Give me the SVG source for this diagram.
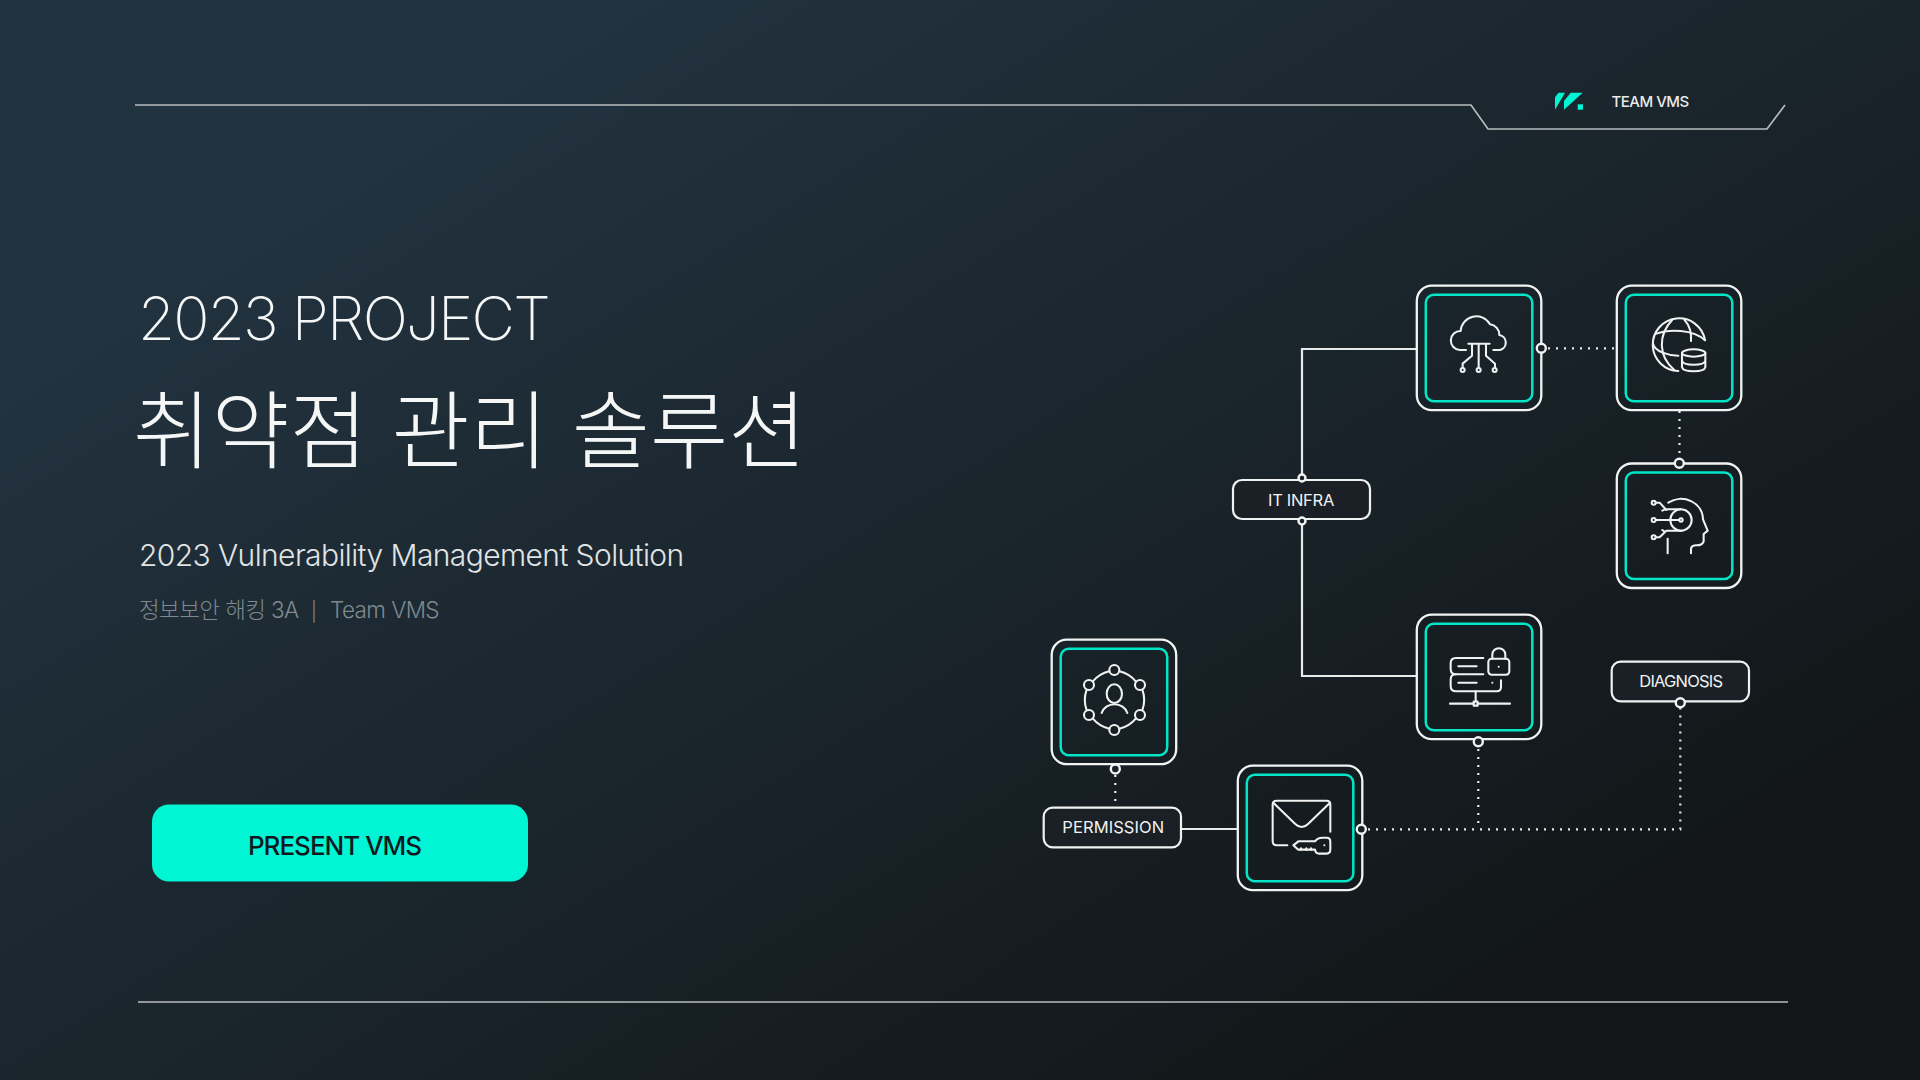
<svg xmlns="http://www.w3.org/2000/svg" width="1920" height="1080" viewBox="0 0 1920 1080">
<defs>
<linearGradient id="bg" gradientUnits="userSpaceOnUse" x1="600" y1="-40" x2="1320" y2="1120">
<stop offset="0" stop-color="#223340"/><stop offset="0.5" stop-color="#1a252c"/><stop offset="1" stop-color="#121618"/>
</linearGradient>
<rect id="outer" x="0" y="0" width="124.5" height="124.5" rx="15"/>
<rect id="inner" x="9" y="9" width="106.5" height="106.5" rx="8"/>
</defs>
<style>
text{font-family:"Inter","Noto Sans CJK KR","Noto Sans",sans-serif}
.o{fill:none;stroke:#f2f4f4;stroke-width:2.3}
.i{fill:none;stroke:#00e6c6;stroke-width:2.5}
.ic{fill:none;stroke:#f0f2f2;stroke-width:6.2;stroke-linecap:round;stroke-linejoin:round}
.solid{fill:none;stroke:#e8eaea;stroke-width:2.2}
.dot{fill:none;stroke:#e8eaea;stroke-width:2.2;stroke-dasharray:2 6}
.port{fill:#1a2228;stroke:#f2f4f4;stroke-width:2.4}
.pill{fill:#1a2026;stroke:#f0f2f2;stroke-width:2.2}
.pt{font-size:16.5px;fill:#f0f2f2;text-anchor:middle}
.rule{fill:none;stroke:#b8bdbf;stroke-width:1.7}
</style>
<rect width="1920" height="1080" fill="url(#bg)"/>

<g id="frame">
<path class="rule" d="M135 105H1471L1488 129H1767L1785 105"/>
<path class="rule" d="M138 1002H1788"/>
</g>
<g id="logo" fill="#00f5d4">
<polygon points="1555,97.300 1558.500,92.700 1565,92.700 1555,109.700"/>
<polygon points="1564,109.700 1564,101 1570.700,92.700 1582.700,92.700 1564,109.700"/>
<rect x="1577.700" y="104.300" width="5.300" height="5.400"/>
</g>
<text x="1611.500" y="107" font-size="15" font-weight="500" letter-spacing="-.5" fill="#e8eaea">TEAM VMS</text>

<g id="titles">
<text x="138" y="340" font-size="60" font-weight="200" letter-spacing="-1.800" fill="#f5f7f7">2023 PROJECT</text>
<text x="133" y="462" font-size="85" font-weight="200" fill="#f5f7f7">취약점 관리 솔루션</text>
<text x="139" y="566" font-size="30" font-weight="300" letter-spacing="-.6" fill="#e0e4e5">2023 Vulnerability Management Solution</text>
<text x="139" y="618" font-size="22.500" font-weight="300" letter-spacing="-.6" fill="#7f898e">정보보안 해킹 3A<tspan x="311" font-size="19">|</tspan><tspan x="330">Team VMS</tspan></text>
</g>
<g id="button">
<rect x="152" y="804.500" width="376" height="77" rx="17" fill="#00f5d4"/>
<text x="334.500" y="855" font-size="26" font-weight="500" letter-spacing="-1" fill="#0f1a1f" text-anchor="middle">PRESENT VMS</text>
</g>

<g id="connectors">
<path class="solid" d="M1302 478V349H1417"/>
<path class="solid" d="M1302 521V676H1417"/>
<path class="solid" d="M1181 829H1238"/>
<path class="dot" d="M1548 348.300H1617"/>
<path class="dot" d="M1679.500 411V458"/>
<path class="dot" d="M1115.300 775V808"/>
<path class="dot" d="M1368 829.300H1680.300V708"/>
<path class="dot" d="M1478.300 749V829"/>
</g>

<g id="node-cloud" transform="translate(1416.800 285.700)"><use href="#outer" class="o"/><use href="#inner" class="i"/></g>
<g id="node-globe" transform="translate(1616.800 285.700)"><use href="#outer" class="o"/><use href="#inner" class="i"/></g>
<g id="node-head" transform="translate(1616.800 463.500)"><use href="#outer" class="o"/><use href="#inner" class="i"/></g>
<g id="node-server" transform="translate(1416.800 614.700)"><use href="#outer" class="o"/><use href="#inner" class="i"/></g>
<g id="node-person" transform="translate(1051.700 639.700)"><use href="#outer" class="o"/><use href="#inner" class="i"/></g>
<g id="node-mail" transform="translate(1237.800 765.700)"><use href="#outer" class="o"/><use href="#inner" class="i"/></g>

<g id="icon-cloud" class="ic" transform="translate(1415 285) scale(.3333)">
<path d="M153 195H135A27 27 0 0 1 137 138A47 47 0 0 1 225 118A31 31 0 0 1 253 150A23 23 0 0 1 255 195H235"/>
<path d="M160 176H224M191 176V248M171 176V212L143 236V248M213 176V212L240 236V248"/>
<circle cx="143" cy="255" r="6"/><circle cx="191" cy="255" r="6"/><circle cx="239" cy="255" r="6"/>
</g>
<g id="icon-globe" class="ic" transform="translate(1615 285) scale(.3333)">
<path d="M270 165A79 79 0 1 0 190 258"/>
<path d="M172 104C128 150 130 215 178 255M208 104C224 122 230 145 228 168"/>
<path d="M124 146C160 132 235 132 270 166M114 176C120 200 160 212 190 212"/>
<ellipse cx="236" cy="204" rx="35" ry="11"/>
<path d="M201 204V247C205 263 267 263 271 247V204M201 227C205 243 267 243 271 227"/>
</g>
<g id="icon-head" class="ic" transform="translate(1615 460) scale(.3333)">
<circle cx="116" cy="128" r="6"/><circle cx="116" cy="180" r="6"/><circle cx="116" cy="232" r="6"/>
<circle cx="198" cy="180" r="32"/><circle cx="198" cy="180" r="5"/>
<path d="M122 180H192M122 128H134L154 150M122 232H134L154 212H200M142 152L150 148H198M142 210L150 216"/>
<path d="M160 128A66 62 0 0 1 264 178L278 212L266 222V244Q262 256 245 256Q228 256 228 268V280"/>
<path d="M158 236V280"/>
</g>
<g id="icon-server" class="ic" transform="translate(1415 612) scale(.3333)">
<path d="M205 138H123Q107 138 107 154V171Q107 187 123 187H205"/>
<path d="M123 187Q107 187 107 203V222Q107 238 123 238H245Q258 238 258 225V205"/>
<path d="M130 163H185M130 212H185M182 238V268M105 275H176M188 275H285"/>
<rect x="176" y="269" width="12" height="12"/>
<rect x="220" y="140" width="63" height="48" rx="10"/>
<path d="M232 140V128A19.500 19.500 0 0 1 271 128V140"/>
<path d="M251 164h.1M232 212h.1"/>
</g>
<g id="icon-person" class="ic" transform="translate(1050 637) scale(.3333)">
<circle cx="193" cy="99" r="15"/><circle cx="270" cy="144" r="15"/><circle cx="270" cy="234" r="15"/><circle cx="193" cy="279" r="15"/><circle cx="117" cy="234" r="15"/><circle cx="117" cy="144" r="15"/>
<path d="M208 103A92 92 0 0 1 258 134M277 158A92 92 0 0 1 277 220M258 244A92 92 0 0 1 208 275M178 275A92 92 0 0 1 128 244M110 220A92 92 0 0 1 110 158M128 134A92 92 0 0 1 178 103"/>
<ellipse cx="193" cy="170" rx="23" ry="28"/>
<path d="M155 228A40 36 0 0 1 232 228"/>
</g>
<g id="icon-mail" class="ic" transform="translate(1235 765) scale(.3333)">
<path d="M157 241H125Q113 241 113 229V118Q113 107 125 107H275Q286 107 286 118V200"/>
<path d="M115 113L180 176Q200 196 220 176L285 113"/>
<path d="M175 241L190 229H240Q248 218 262 218H275Q286 218 286 230V253Q286 266 275 266H252Q242 266 240 254H190Z"/>
<path d="M268 241h.1M198 254v-4M214 254v-4M228 254v-4"/>
</g>

<g id="pill-it"><rect class="pill" x="1233" y="480" width="137" height="39" rx="9"/><text class="pt" x="1301" y="505.500" letter-spacing="-.3">IT INFRA</text></g>
<g id="pill-permission"><rect class="pill" x="1043.700" y="807.700" width="137.300" height="39.600" rx="9"/><text class="pt" x="1113.300" y="833.300" letter-spacing=".1">PERMISSION</text></g>
<g id="pill-diagnosis"><rect class="pill" x="1611.700" y="661.700" width="137.300" height="39.600" rx="9"/><text class="pt" x="1680.800" y="686.700" letter-spacing="-.8">DIAGNOSIS</text></g>

<g id="ports">
<circle class="port" cx="1541.300" cy="348.300" r="4.500"/>
<circle class="port" cx="1679.300" cy="463.300" r="4.500"/>
<circle class="port" cx="1478.300" cy="741.700" r="4.500"/>
<circle class="port" cx="1115.300" cy="769" r="4.500"/>
<circle class="port" cx="1361.300" cy="829.300" r="4.500"/>
<circle class="port" cx="1680.300" cy="702.700" r="4.500"/>
<circle class="port" cx="1302" cy="478" r="3.500"/>
<circle class="port" cx="1302" cy="521" r="3.500"/>
</g>
</svg>
